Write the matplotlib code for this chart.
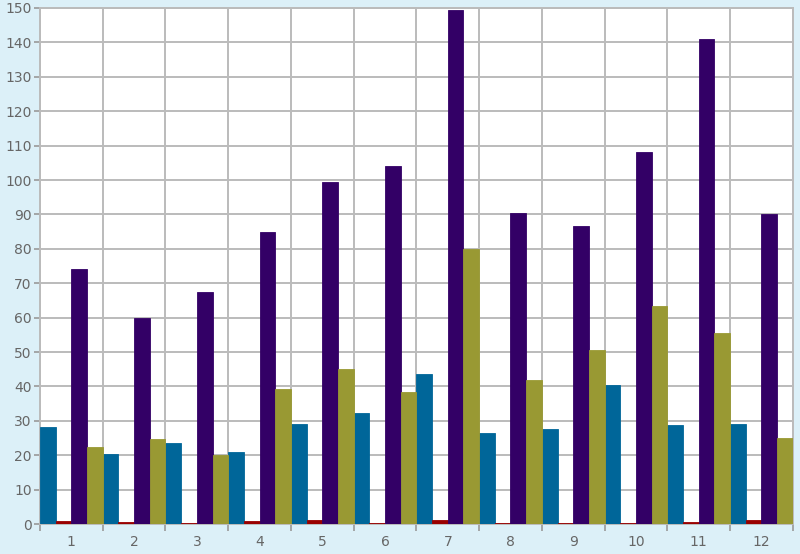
import numpy as np
import matplotlib.pyplot as plt

# data
months = ['1', '2', '3', '4', '5', '6', '7', '8', '9', '10', '11', '12']
blue = [28.3, 20.5, 23.6, 21.0, 29.0, 32.2, 43.5, 26.5, 27.7, 40.5, 28.7, 29.2]
red = [1.0, 0.6, 0.3, 1.0, 1.3, 0.3, 1.3, 0.4, 0.4, 0.3, 0.7, 1.2]
purple = [74.2, 60.0, 67.5, 85.0, 99.5, 104.0, 149.3, 90.5, 86.5, 108.0, 141.0, 90.0]
olive = [22.3, 24.6, 20.0, 39.3, 45.2, 38.5, 80.0, 42.0, 50.5, 63.5, 55.5, 25.0]

series = [blue, red, purple, olive]
colors = ['#006699', '#990000', '#330066', '#999933']

fig = plt.figure(figsize=(8, 5.54), dpi=100)
fig.patch.set_facecolor('#dcf0f8')
ax = fig.add_axes([0.05, 0.054, 0.941, 0.9316])
ax.set_facecolor('white')

x = np.arange(len(months))
w = 0.25
for i, (vals, c) in enumerate(zip(series, colors)):
    ax.bar(x + (i - 1.5) * w, vals, width=w, color=c, zorder=3,
           edgecolor=c, linewidth=0.6)

ax.set_xlim(-0.5, len(months) - 0.5)
ax.set_ylim(0, 150)
ax.set_yticks(range(0, 151, 10))
ax.set_xticks(x)
ax.set_xticklabels(months)
ax.set_xticks(np.arange(len(months) + 1) - 0.5, minor=True)

ax.grid(True, which='major', axis='y', color='#bbbbbb', linewidth=1.4, zorder=0)
ax.grid(True, which='minor', axis='x', color='#bbbbbb', linewidth=1.4, zorder=0)

ax.tick_params(axis='x', which='major', length=0, pad=8, labelsize=10, labelcolor='#666666')
ax.tick_params(axis='x', which='minor', length=5, width=1.2, color='#999999')
ax.tick_params(axis='y', length=4, width=1.2, color='#999999', pad=2,
               labelsize=10, labelcolor='#666666')

for s in ax.spines.values():
    s.set_color('#bbbbbb')
    s.set_linewidth(1.4)

fig.savefig('out.png', dpi=100, facecolor=fig.get_facecolor())
